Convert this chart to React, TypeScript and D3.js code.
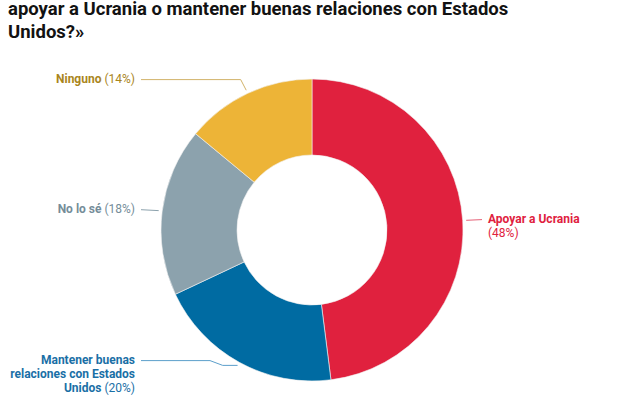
import React from 'react';
import * as d3 from 'd3';

const categories = ['Apoyar a Ucrania', 'Mantener buenas relaciones con Estados Unidos', 'No lo sé', 'Ninguno'];
const values = [48, 20, 18, 14];
const sliceColors = ['#E0213E', '#006BA2', '#8CA2AD', '#EDB437'];
const textColors = ['#E0213E', '#1A6FA6', '#758D99', '#A9851C'];
const lineColors = ['#E66278', '#5C9FCB', '#8CA2AD', '#D2B36A'];
const titleLines = ['apoyar a Ucrania o mantener buenas relaciones con Estados', 'Unidos?»'];

const W = 624;
const H = 416;
const cx = 312;
const cy = 230;
const outerR = 151;
const innerR = 75;
const font = 'Roboto, "Noto Sans", sans-serif';

// label layout: anchor, x, baseline of first line, wrapped lines, elbows
const labelLayout = [
  { anchor: 'start', x: 488, y: 223.3, lines: [['Apoyar a Ucrania', ''], ['', '(48%)']], elbows: [] as number[] },
  {
    anchor: 'end', x: 135, y: 364.3,
    lines: [['Mantener buenas', ''], ['relaciones con Estados', ''], ['Unidos ', '(20%)']],
    elbows: [210, 222.7],
  },
  { anchor: 'end', x: 135, y: 213.4, lines: [['No lo sé ', '(18%)']], elbows: [] as number[] },
  { anchor: 'end', x: 135, y: 83.3, lines: [['Ninguno ', '(14%)']], elbows: [240.7] },
];

export default function App() {
  const pie = d3.pie<number>().sort(null).value((d) => d)(values);
  const arc = d3.arc<d3.PieArcDatum<number>>().innerRadius(innerR).outerRadius(outerR);

  const leader = (i: number) => {
    const p = pie[i];
    const a = (p.startAngle + p.endAngle) / 2;
    const r = outerR + 3.5;
    const px = cx + r * Math.sin(a);
    const py = cy - r * Math.cos(a);
    const L = labelLayout[i];
    const ly = L.y - 3.7;
    const sx = L.anchor === 'end' ? L.x + 6 : L.x - 6;
    const pts: [number, number][] = [[sx, ly]];
    if (L.elbows.length === 1) pts.push([L.elbows[0], ly]);
    if (L.elbows.length === 2) {
      pts.push([L.elbows[0], ly]);
      pts.push([L.elbows[1], py]);
    }
    pts.push([px, py]);
    return d3.line()(pts) || '';
  };

  return (
    <svg width={W} height={H} style={{ position: 'absolute', left: 0, top: 0, background: '#fff' }}>
      {titleLines.map((t, i) => (
        <text key={i} x={8} y={14.5 + i * 23.2} fontFamily={font} fontWeight={700} fontSize={18.5} fill="#121212">
          {t}
        </text>
      ))}
      <g transform={`translate(${cx},${cy})`}>
        {pie.map((p, i) => (
          <path key={i} d={arc(p) || ''} fill={sliceColors[i]} stroke="#f2f2f2" strokeWidth={0.6} />
        ))}
      </g>
      {values.map((_, i) => (
        <path key={i} d={leader(i)} fill="none" stroke={lineColors[i]} strokeWidth={1} />
      ))}
      {labelLayout.map((L, i) => (
        <text key={i} fontFamily={font} fontSize={12} fill={textColors[i]} textAnchor={L.anchor}>
          {L.lines.map(([bold, normal], j) => (
            <tspan key={j} x={L.x} y={L.y + j * 14}>
              {bold && <tspan fontWeight={700}>{bold}</tspan>}
              {normal && <tspan fontWeight={400}>{normal}</tspan>}
            </tspan>
          ))}
        </text>
      ))}
    </svg>
  );
}
